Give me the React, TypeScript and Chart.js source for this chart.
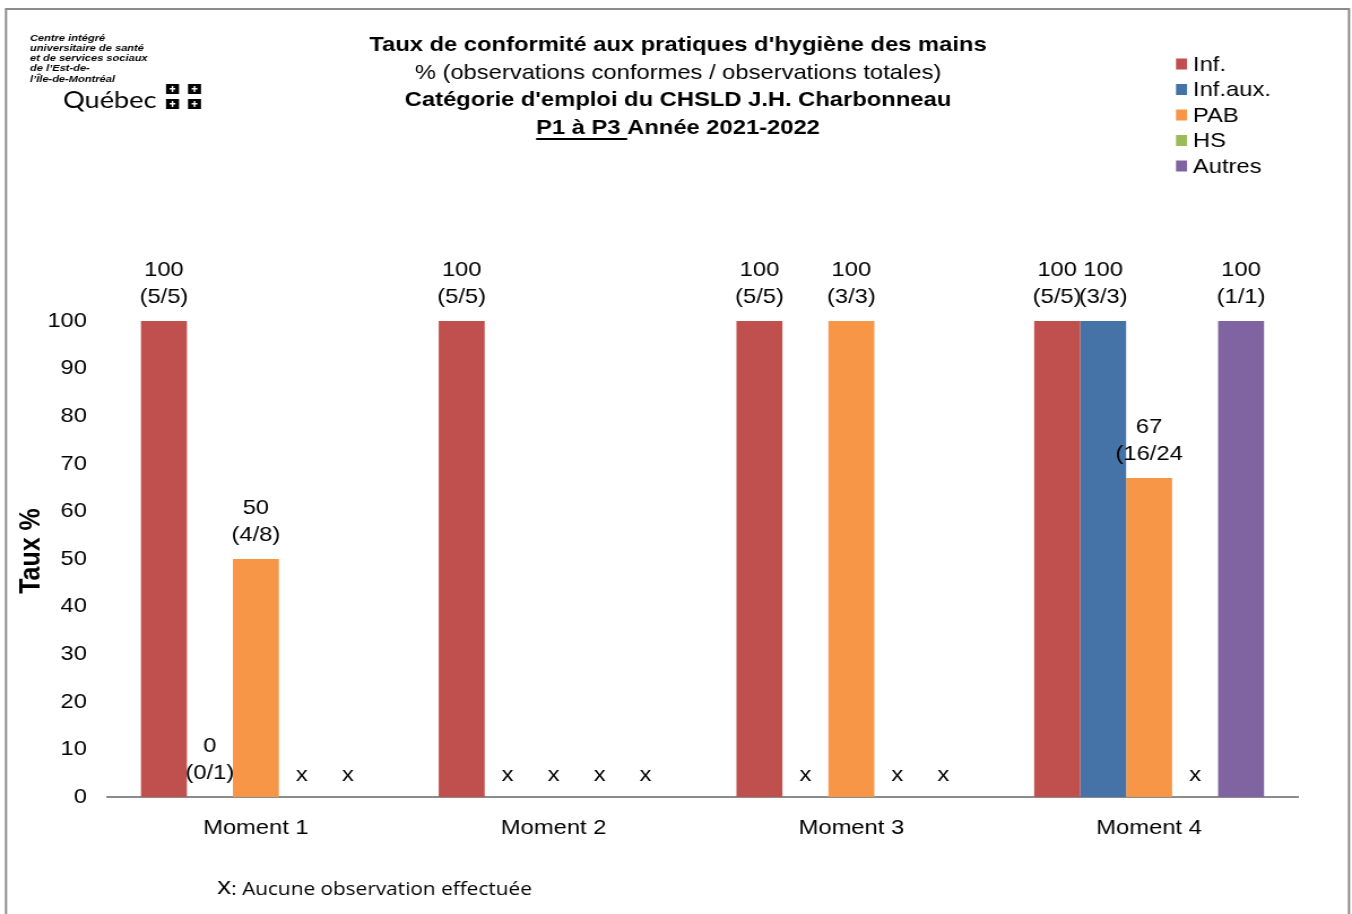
import React, { useEffect, useRef } from "react";
import { Chart, registerables } from "chart.js";

Chart.register(...registerables);

const categories = ["Moment 1", "Moment 2", "Moment 3", "Moment 4"];
const seriesNames = ["Inf.", "Inf.aux.", "PAB", "HS", "Autres"];
const seriesColors = ["#C0504D", "#4572A7", "#F79646", "#9BBB59", "#8064A2"];

const infValues = [100, 100, 100, 100];
const infAuxValues = [0, null, null, 100];
const pabValues = [50, null, 100, 67];
const hsValues = [null, null, null, null];
const autresValues = [null, null, null, 100];

const infFractions = ["(5/5)", "(5/5)", "(5/5)", "(5/5)"];
const infAuxFractions = ["(0/1)", null, null, "(3/3)"];
const pabFractions = ["(4/8)", null, "(3/3)", "(16/24"];
const hsFractions = [null, null, null, null];
const autresFractions = [null, null, null, "(1/1)"];

const yTicks = [0, 10, 20, 30, 40, 50, 60, 70, 80, 90, 100];

const titleLines = [
  "Taux de conformité aux pratiques d'hygiène des mains",
  "% (observations conformes / observations totales)",
  "Catégorie d'emploi du CHSLD J.H. Charbonneau",
];
const titleUnderlined = "P1 à P3 ";
const titleRest = "Année 2021-2022";
const logoLines = [
  "Centre intégré",
  "universitaire de santé",
  "et de services sociaux",
  "de l’Est-de-",
  "l’Île-de-Montréal",
];
const logoWord = "Québec";
const yTitle = "Taux %";
const footnoteMark = "x";
const footnoteText = ": Aucune observation effectuée";
const missingMark = "x";

const allValues = [infValues, infAuxValues, pabValues, hsValues, autresValues];
const allFractions = [infFractions, infAuxFractions, pabFractions, hsFractions, autresFractions];

const FONT = "'Liberation Sans', Arial, sans-serif";
const PAGE_W = 1352;
const CW = 1196;
const S = PAGE_W / CW;
const L = (px: number) => px / S;

const decorPlugin = {
  id: "decor",
  afterDraw(chart: any) {
    const ctx = chart.ctx;
    ctx.save();
    // frame
    ctx.strokeStyle = "#8c8c8c";
    ctx.lineWidth = 2;
    ctx.strokeRect(L(6), 9, L(1349) - L(6), 920);

    // bar labels
    ctx.fillStyle = "#000";
    ctx.font = `21px ${FONT}`;
    ctx.textAlign = "center";
    ctx.textBaseline = "middle";
    chart.data.datasets.forEach((ds: any, di: number) => {
      const meta = chart.getDatasetMeta(di);
      meta.data.forEach((el: any, i: number) => {
        const v = ds.data[i];
        const x = el.x;
        if (v === null || v === undefined) {
          ctx.fillText(missingMark, x, chart.scales.y.getPixelForValue(0) - 22);
        } else {
          const top = chart.scales.y.getPixelForValue(v);
          ctx.fillText(String(v), x, top - 51);
          const f = allFractions[di][i];
          if (f) ctx.fillText(f, x, top - 24);
        }
      });
    });

    // title
    const cx = L(678);
    ctx.textAlign = "center";
    ctx.font = `bold 21px ${FONT}`;
    ctx.fillText(titleLines[0], cx, 45);
    ctx.font = `21px ${FONT}`;
    ctx.fillText(titleLines[1], cx, 73);
    ctx.font = `bold 21px ${FONT}`;
    ctx.fillText(titleLines[2], cx, 100);
    const wU = ctx.measureText(titleUnderlined).width;
    const wR = ctx.measureText(titleRest).width;
    const startX = cx - (wU + wR) / 2;
    ctx.textAlign = "left";
    ctx.fillText(titleUnderlined, startX, 128);
    ctx.fillText(titleRest, startX + wU, 128);
    ctx.fillRect(startX, 138, wU, 2);

    // legend
    ctx.font = `21px ${FONT}`;
    ctx.textAlign = "left";
    seriesNames.forEach((n, i) => {
      const y = 64 + i * 25.5;
      ctx.fillStyle = seriesColors[i];
      ctx.fillRect(L(1176), y - 5.5, L(1187) - L(1176), 11);
      ctx.fillStyle = "#000";
      ctx.fillText(n, L(1193), y + 1);
    });

    // y title
    ctx.save();
    ctx.translate(L(32), 551);
    ctx.rotate(-Math.PI / 2);
    ctx.textAlign = "center";
    ctx.font = `bold 25px ${FONT}`;
    ctx.fillText(yTitle, 0, 0);
    ctx.restore();

    // logo
    ctx.fillStyle = "#000";
    ctx.font = `italic bold 9.8px ${FONT}`;
    ctx.textAlign = "left";
    logoLines.forEach((l, i) => ctx.fillText(l, L(30), 38 + i * 10.2));
    ctx.font = `24px Lato, 'Open Sans', ${FONT}`;
    ctx.fillText(logoWord, L(63), 100);
    const sq = [
      [166, 84],
      [188, 84],
      [166, 99],
      [188, 99],
    ];
    sq.forEach(([x, y]) => {
      const lx = L(x);
      const w = L(x + 13) - lx;
      ctx.fillStyle = "#000";
      ctx.fillRect(lx, y, w, 10);
      ctx.fillStyle = "#fff";
      ctx.fillRect(lx + w / 2 - 0.7, y + 2, 1.4, 6);
      ctx.fillRect(lx + w / 2 - 2.5, y + 4, 5, 1.5);
    });

    // footnote
    ctx.fillStyle = "#000";
    ctx.font = `24px 'Open Sans', ${FONT}`;
    ctx.fillText(footnoteMark, L(217), 887);
    const wm = ctx.measureText(footnoteMark).width;
    ctx.font = `18.4px 'Open Sans', ${FONT}`;
    ctx.fillText(footnoteText, L(217) + wm, 890);
    ctx.restore();
  },
};

export default function App() {
  const ref = useRef<HTMLCanvasElement>(null);
  useEffect(() => {
    if (!ref.current) return;
    const chart = new Chart(ref.current, {
      type: "bar",
      data: {
        labels: categories,
        datasets: seriesNames.map((n, i) => ({
          label: n,
          data: allValues[i],
          backgroundColor: seriesColors[i],
          borderWidth: 0,
          categoryPercentage: 0.772,
          barPercentage: 1,
        })),
      },
      options: {
        animation: false,
        responsive: false,
        maintainAspectRatio: false,
        layout: { padding: { left: 8, right: CW - L(1298), top: 321, bottom: 0 } },
        plugins: {
          legend: { display: false },
          tooltip: { enabled: false },
          title: { display: false },
        },
        scales: {
          x: {
            grid: { display: false, drawTicks: false },
            border: { display: true, color: "#8c8c8c", width: 2 },
            ticks: { color: "#000", font: { size: 21, family: FONT }, padding: 19 },
            afterFit: (s: any) => {
              s.height = 117;
            },
          },
          y: {
            min: 0,
            max: 100,
            grid: { display: false, drawTicks: false },
            border: { display: false },
            ticks: {
              color: "#000",
              font: { size: 21, family: FONT },
              padding: L(107) - L(87),
              stepSize: 10,
              callback: (v: any) => (yTicks.includes(v) ? String(v) : ""),
            },
            afterFit: (s: any) => {
              s.width = L(107) - 8;
            },
          },
        },
      },
      plugins: [decorPlugin],
    });
    return () => chart.destroy();
  }, []);
  return (
    <div
      style={{
        position: "fixed",
        left: 0,
        top: 0,
        width: PAGE_W,
        height: 914,
        overflow: "hidden",
        background: "#fff",
      }}
    >
      <canvas
        ref={ref}
        width={CW}
        height={914}
        style={{
          display: "block",
          width: CW,
          height: 914,
          transform: `scaleX(${S})`,
          transformOrigin: "0 0",
        }}
      />
    </div>
  );
}
